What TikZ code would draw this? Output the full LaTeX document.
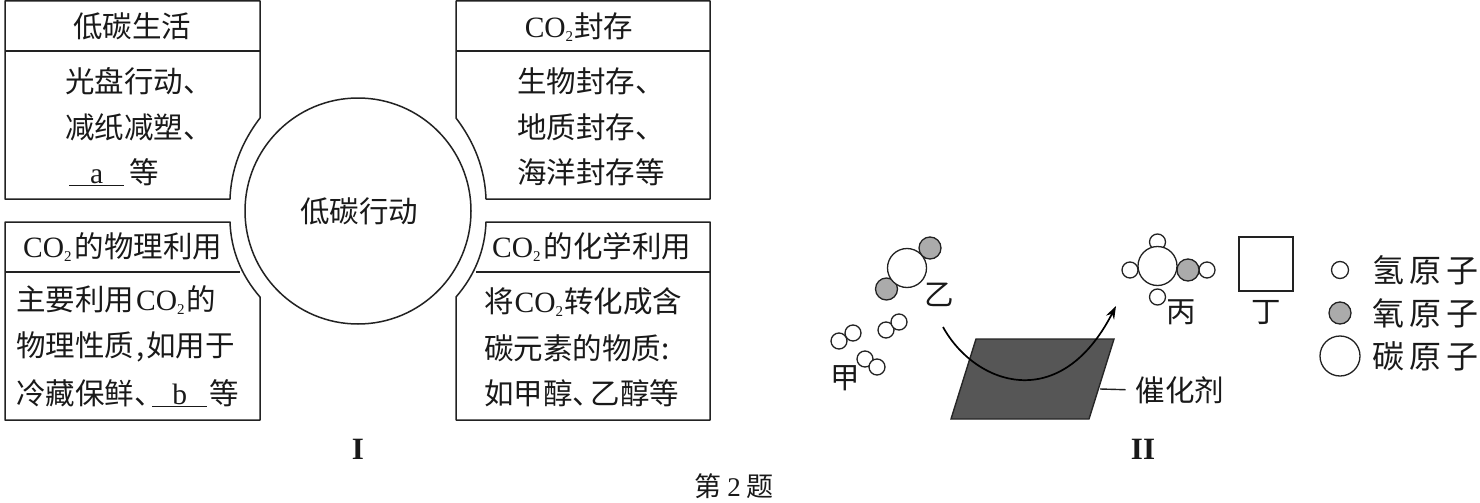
\documentclass[tikz,border=0pt]{standalone}
\usepackage{fontspec}
\setmainfont{Liberation Serif}
\newfontfamily\cjk{Noto Sans CJK SC}
\usetikzlibrary{arrows.meta}
\newcommand{\COt}{{\rmfamily CO\raisebox{-4pt}{\fontsize{15}{15}\selectfont 2}}}
\newcommand{\blankfill}[1]{\underline{\makebox[55pt]{\rmfamily #1}}}
\newcommand{\dunh}{\makebox[18pt][l]{、}}
\definecolor{inkc}{HTML}{222222}
\definecolor{oxy}{HTML}{ABABAB}
\definecolor{cata}{HTML}{565656}
\tikzset{
  boxline/.style={draw=inkc,line width=1.5pt,line join=round},
  txt/.style={inner sep=0pt,text=black!90,font=\fontsize{29.5}{31}\selectfont\cjk},
  ltxt/.style={txt,anchor=west},
  legtxt/.style={txt,font=\fontsize{32}{33}\selectfont\cjk},
  romantxt/.style={txt,font=\fontsize{31}{31}\selectfont\rmfamily\bfseries},
  hatom/.style={circle,draw=inkc,line width=1.3pt,fill=white,inner sep=0pt,minimum size=16pt},
  oatom/.style={circle,draw=inkc,line width=1.3pt,fill=oxy,inner sep=0pt,minimum size=22pt},
  catom/.style={circle,draw=inkc,line width=1.3pt,fill=white,inner sep=0pt,minimum size=39pt}
}
\begin{document}
\begin{tikzpicture}[x=1pt,y=-1pt]
\useasboundingbox (0,0) rectangle (1480,503);
\fill[white] (0,0) rectangle (1480,503);
% Part I boxes
\draw[boxline] (5,1) -- (260,1) -- (260,118) .. controls (241,143) and (231,170) .. (230,199) -- (5,199) -- cycle;
\draw[boxline] (5,51) -- (260,51);
\draw[boxline] (710,1) -- (456,1) -- (456,118) .. controls (475,143) and (485,170) .. (486,199) -- (710,199) -- cycle;
\draw[boxline] (456,51) -- (710,51);
\draw[boxline] (5,222) -- (230,222) .. controls (231,250) and (241,275) .. (260,297) -- (260,420) -- (5,420) -- cycle;
\draw[boxline] (5,272) -- (240,272);
\draw[boxline] (710,222) -- (486,222) .. controls (485,250) and (475,275) .. (456,297) -- (456,420) -- (710,420) -- cycle;
\draw[boxline] (476,272) -- (710,272);
\node[circle,draw=inkc,line width=1.5pt,minimum size=226pt,inner sep=0pt] (hub) at (358,211) {};
\node[txt] (hubt) at (359,211) {低碳行动};
% texts
\node[txt] (t1) at (132,26) {低碳生活};
\node[ltxt] (t1a) at (65,81) {光盘行动、};
\node[ltxt] (t1b) at (65,127) {减纸减塑、};
\node[ltxt] (t1c) at (69,172) {\blankfill{a}\,等};
\node[txt] (t2) at (579,27) {\COt\hspace{1pt}封存};
\node[ltxt] (t2a) at (517,81) {生物封存、};
\node[ltxt] (t2b) at (517,127) {地质封存、};
\node[ltxt] (t2c) at (517,172) {海洋封存等};
\node[ltxt] (t3) at (23,247) {\COt\hspace{3pt}的物理利用};
\node[ltxt] (t3a) at (16,300) {主要利用\hspace{2pt}\COt\hspace{2pt}的};
\node[ltxt] (t3b) at (16,347) {物理性质\hspace{2pt},\hspace{2pt}如用于};
\node[ltxt] (t3c) at (16,393) {冷藏保鲜\dunh\blankfill{b}\hspace{2pt}等};
\node[ltxt] (t4) at (492,247) {\COt\hspace{3pt}的化学利用};
\node[ltxt] (t4a) at (484,302) {将\hspace{1pt}\COt\hspace{1pt}转化成含};
\node[ltxt] (t4b) at (484,348) {碳元素的物质:};
\node[ltxt] (t4c) at (484,393) {如甲醇\dunh 乙醇等};
\node[romantxt] (roman1) at (358,449) {I};
\node[romantxt] (roman2) at (1143,449) {II};
\node[txt,font=\fontsize{27}{28}\selectfont\cjk] (cap) at (734,486) {第 {\rmfamily 2} 题};
% Part II: catalyst
\coordinate (pa) at (976,339);
\coordinate (pb) at (1114,339);
\coordinate (pc) at (1089,419);
\coordinate (pd) at (951,419);
\coordinate (leadstart) at (1100,389);
\draw[fill=cata,draw=black!85,line width=1.4pt] (pa) -- (pb) -- (pc) -- (pd) -- cycle;
\node[txt] (cat) at (1180,390) {催化剂};
\draw[draw=inkc,line width=1.4pt,shorten >=10pt] (leadstart) -- (cat.west);
\coordinate (arrS) at (943,327);
\coordinate (arrE) at (1116,306);
\draw[black,line width=1.7pt,-{Stealth[length=13pt,width=9pt]}] (arrS) .. controls (975,385) and (1060,415) .. (arrE);
% molecules
\node[oatom] (yo1) at (930,248) {};
\node[oatom] (yo2) at (886.5,289) {};
\node[catom] (yc) at (907,268) {};
\node[txt] (yi) at (939,295) {乙};
\node[hatom] (h1) at (839,341) {};
\node[hatom] (h2) at (853,333) {};
\node[hatom] (h3) at (886,330) {};
\node[hatom] (h4) at (899,322) {};
\node[hatom] (h5) at (865,359) {};
\node[hatom] (h6) at (877,367) {};
\node[txt] (jia) at (845,378) {甲};
\node[hatom] (bh1) at (1157.5,242) {};
\node[hatom] (bh2) at (1130,270) {};
\node[hatom] (bh3) at (1157.5,297) {};
\node[hatom] (bh4) at (1207,270) {};
\node[oatom] (bo) at (1188,270) {};
\node[catom] (bc) at (1157.5,266) {};
\node[txt] (bing) at (1181,312) {丙};
\node[draw=inkc,line width=1.4pt,minimum width=54pt,minimum height=54pt,inner sep=0pt] (ding) at (1266,264) {};
\node[txt] (dingt) at (1266,313) {丁};
% legend
\node[hatom,minimum size=17pt] (lh) at (1340,270) {};
\node[oatom] (lo) at (1340,313) {};
\node[catom,minimum size=40pt] (lc) at (1340,356) {};
\node[legtxt] (lht) at (1425,270) {氢\hspace{5pt}原\hspace{5pt}子};
\node[legtxt] (lot) at (1425,313) {氧\hspace{5pt}原\hspace{5pt}子};
\node[legtxt] (lct) at (1425,356) {碳\hspace{5pt}原\hspace{5pt}子};
\end{tikzpicture}
\end{document}
